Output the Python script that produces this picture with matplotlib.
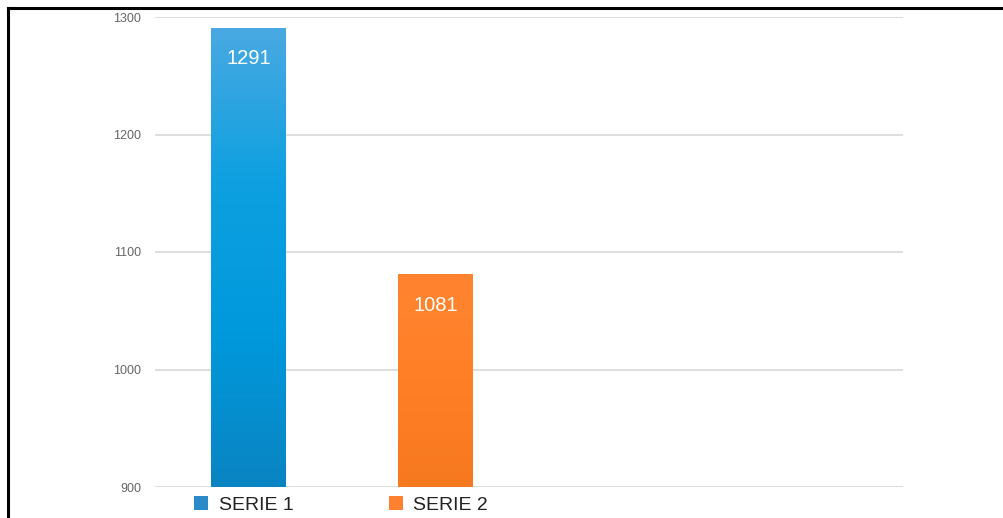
import numpy as np
import matplotlib
matplotlib.use("Agg")
import matplotlib.pyplot as plt
from matplotlib.patches import Patch
from matplotlib.colors import LinearSegmentedColormap
from matplotlib.lines import Line2D

series = ["SERIE 1", "SERIE 2"]
values = [1291, 1081]
yticks = [900, 1000, 1100, 1200, 1300]

plt.rcParams["font.family"] = ["Liberation Sans", "DejaVu Sans"]

W, H = 1004, 518
fig = plt.figure(figsize=(W / 100, H / 100), dpi=100)
ax = fig.add_axes([155 / W, (H - 487) / H, (903 - 155) / W, (487 - 17) / H])

ax.set_xlim(-0.5, 3.5)
ax.set_ylim(900, 1300)
ax.set_yticks(yticks)
ax.set_xticks([])
for s in ax.spines.values():
    s.set_visible(False)
ax.tick_params(axis="y", length=0, pad=10, labelsize=9, labelcolor="#666666")
ax.grid(axis="y", color="#dedede", linewidth=1.4)
ax.set_axisbelow(True)

grads = [
    LinearSegmentedColormap.from_list("b", ["#0a84c2", "#0099dc", "#0ea0e0", "#4aa9e2"]),
    LinearSegmentedColormap.from_list("o", ["#f6781f", "#ff7f26", "#ff8430"]),
]
legend_cols = ["#2a8bc8", "#ff8030"]
width = 0.4

x = np.arange(len(series))
bars = ax.bar(x, values, width=width, bottom=0, color="none", edgecolor="none", zorder=3)
grad = np.linspace(0, 1, 256).reshape(-1, 1)
for b, cmap, v in zip(bars, grads, values):
    x0 = b.get_x()
    im = ax.imshow(grad, cmap=cmap, origin="lower", aspect="auto",
                   extent=[x0, x0 + width, 900, v], zorder=3)
    im.set_clip_path(b)
    ax.annotate(str(v), (b.get_x() + width / 2, v), xytext=(0, -22.5),
                textcoords="offset points", ha="center", va="center",
                color="white", fontsize=14.5, zorder=5)
ax.set_xlim(-0.5, 3.5)
ax.set_ylim(900, 1300)

handles = [Patch(facecolor=c, edgecolor="none") for c in legend_cols]
fig.legend(handles, series, loc="center left", ncol=2, frameon=False,
           bbox_to_anchor=(194 / W, (H - 505) / H), borderpad=0, borderaxespad=0,
           fontsize=14, handlelength=0.72, handleheight=0.72, handletextpad=0.55,
           columnspacing=4.9, labelcolor="#222222")

# frame lines of the screenshot
fig.add_artist(Line2D([8 / W, 8 / W], [0, (H - 8) / H], color="black", linewidth=2.2))
fig.add_artist(Line2D([8 / W, 1], [(H - 8) / H, (H - 8) / H], color="black", linewidth=2.2))

fig.savefig("out.png", dpi=100)
